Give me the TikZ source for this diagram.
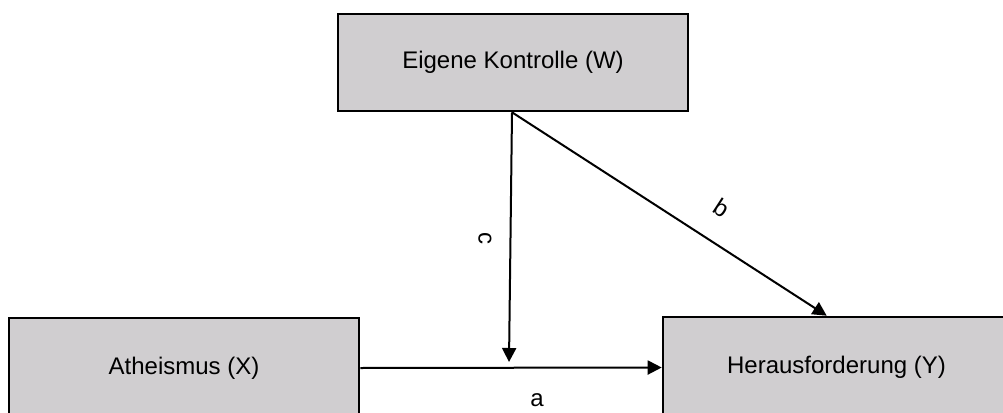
\documentclass[tikz,border=0pt]{standalone}
\usepackage{fontspec}
\setmainfont{Liberation Sans}
\usetikzlibrary{arrows.meta,calc}
\definecolor{boxgray}{RGB}{208,206,208}
\begin{document}
\begin{tikzpicture}[x=1pt,y=-1pt,
  varbox/.style={draw=black,line width=2.6pt,fill=boxgray,minimum width=#1,
    inner sep=0pt,font=\fontsize{24}{28}\selectfont},
  path/.style={line width=2pt,-{Triangle[length=14pt,width=14pt]}},
  lbl/.style={font=\fontsize{24}{28}\selectfont,inner sep=0pt}]
\useasboundingbox (0,0) rectangle (1003,412);
\clip (0,0) rectangle (1003,412);
\fill[white] (0,0) rectangle (1003,412);
% variables
\node[varbox=350pt,minimum height=97pt] (W) at (513,62.5) {Eigene Kontrolle (W)};
\node[varbox=350pt,minimum height=100pt] (X) at (184,368) {Atheismus (X)};
\node[varbox=347pt,minimum height=101pt] (Y) at (836.5,367.5) {Herausforderung (Y)};
% connector end points
\coordinate (wfoot) at ($(W.south)+(-1,0)$);
\coordinate (cend) at (509,362);
\coordinate (bend) at ($(Y.north west)+(165,0)$);
% paths
\draw[path] (X.east) -- (Y.west);
\draw[path] (wfoot) -- (cend);
\draw[path] (wfoot) -- (bend);
% labels
\node[lbl,rotate=-90] (lc) at (485,238) {c};
\node[lbl,rotate=-33] (lb) at (722,208) {b};
\node[lbl] (la) at (537,400) {a};
\end{tikzpicture}
\end{document}
